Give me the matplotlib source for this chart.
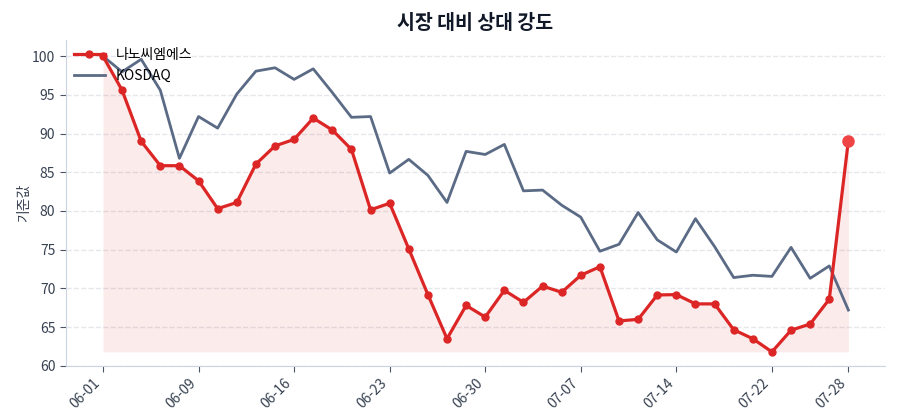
import numpy as np
import matplotlib
matplotlib.use("Agg")
import matplotlib.pyplot as plt

plt.rcParams['font.family'] = ['Noto Sans CJK KR', 'DejaVu Sans']

# trading days (MM-DD)
dates = ["06-01", "06-02", "06-04", "06-05", "06-08", "06-09", "06-10", "06-11",
         "06-12", "06-13", "06-16", "06-17", "06-18", "06-19", "06-20", "06-23",
         "06-24", "06-25", "06-26", "06-27", "06-30", "07-01", "07-02", "07-03",
         "07-04", "07-07", "07-08", "07-09", "07-10", "07-11", "07-14", "07-15",
         "07-16", "07-17", "07-18", "07-22", "07-23", "07-24", "07-25", "07-28"]

# rebased to 100 at first day
stock = [100.0, 95.6, 89.0, 85.85, 85.85, 83.9, 80.3, 81.1, 86.06, 88.4,
         89.25, 92.0, 90.46, 87.96, 80.15, 81.0, 75.1, 69.2, 63.5, 67.8,
         66.3, 69.75, 68.2, 70.3, 69.5, 71.7, 72.8, 65.8, 66.0, 69.15,
         69.2, 68.0, 68.0, 64.66, 63.5, 61.8, 64.6, 65.4, 68.6, 89.1]
kosdaq = [100.0, 97.97, 99.6, 95.6, 86.8, 92.2, 90.7, 95.1, 98.06, 98.5,
          97.0, 98.36, 95.3, 92.1, 92.2, 84.9, 86.67, 84.6, 81.1, 87.7,
          87.3, 88.6, 82.6, 82.7, 80.75, 79.2, 74.8, 75.7, 79.8, 76.27,
          74.7, 79.0, 75.4, 71.4, 71.7, 71.55, 75.3, 71.3, 72.9, 67.2]

tick_idx = [0, 5, 10, 15, 20, 25, 30, 35, 39]

RED = '#dc2626'
SLATE = '#5b6b85'

x = np.arange(len(dates))
y_stock = np.array(stock)

fig = plt.figure(figsize=(9, 4.2), dpi=100)
ax = fig.add_axes([0.073, 0.129, 0.91, 0.776])

ax.fill_between(x, y_stock, y_stock.min(), color=RED, alpha=0.09, linewidth=0)
ax.plot(x, y_stock, color=RED, linewidth=2.3, marker='o', markersize=5,
        label='나노씨엠에스', zorder=3)
ax.plot(x, kosdaq, color=SLATE, linewidth=2.0, label='KOSDAQ', zorder=2)
# highlight latest point
ax.plot(x[-1], y_stock[-1], 'o', color='#ef4444', markersize=8, zorder=4)

ax.set_xlim(-1.95, 40.9)
ax.set_ylim(60, 102.1)
ax.set_yticks([60, 65, 70, 75, 80, 85, 90, 95, 100])
ax.set_xticks(tick_idx)
ax.set_xticklabels([dates[i] for i in tick_idx], rotation=45, ha='right')

ax.grid(axis='y', linestyle='--', color='#e5e7eb', linewidth=1)
ax.set_axisbelow(True)
for side in ['top', 'right']:
    ax.spines[side].set_visible(False)
for side in ['left', 'bottom']:
    ax.spines[side].set_color('#cbd5e1')
ax.tick_params(axis='both', labelsize=10, colors='#374151')
ax.tick_params(axis='both', color='#4b5563', length=4)

ax.set_ylabel('기준값', fontsize=10, color='#374151', labelpad=1)
ax.set_title('시장 대비 상대 강도', fontsize=14, fontweight='bold',
             color='#111827', pad=8)

ax.legend(loc='upper left', frameon=False, fontsize=10,
          borderaxespad=0.2, handlelength=2.2)

fig.savefig('out.png', dpi=100)
